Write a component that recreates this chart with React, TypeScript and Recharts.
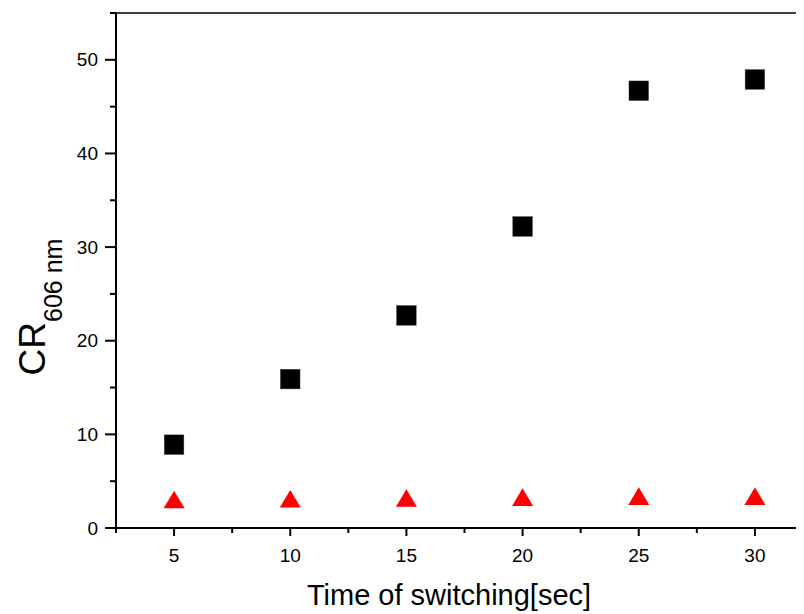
import React from 'react';
import { ScatterChart, Scatter, XAxis, YAxis, ReferenceLine, Label } from 'recharts';

const switchTimes = [5, 10, 15, 20, 25, 30];
const crSquares = [8.9, 15.9, 22.7, 32.2, 46.7, 47.9];
const crTriangles = [3.04, 3.12, 3.2, 3.3, 3.4, 3.4];
const yTicks = [0, 5, 10, 15, 20, 25, 30, 35, 40, 45, 50, 55];
const xTicks = [2.5, 5, 7.5, 10, 12.5, 15, 17.5, 20, 22.5, 25, 27.5, 30, 32.5];

const squareData = switchTimes.map((x, i) => ({ x, y: crSquares[i] }));
const triangleData = switchTimes.map((x, i) => ({ x, y: crTriangles[i] }));

const FONT = '"Liberation Sans", Arial, Helvetica, sans-serif';

const YTick = (props: any) => {
  const { x, y, payload } = props;
  const v = payload.value;
  const major = v % 10 === 0;
  return (
    <g>
      <line x1={x - (major ? 11 : 6)} x2={x} y1={y} y2={y} stroke="#000" strokeWidth={2} />
      {major && (
        <text x={x - 18} y={y} textAnchor="end" dominantBaseline="central" fontSize={19} fontFamily={FONT} fill="#000">
          {v}
        </text>
      )}
    </g>
  );
};

const XTick = (props: any) => {
  const { x, y, payload } = props;
  const v = payload.value;
  const major = v % 5 === 0;
  return (
    <g>
      <line x1={x} x2={x} y1={y} y2={y + (major ? 8 : 5)} stroke="#000" strokeWidth={2} />
      {major && (
        <text x={x} y={y + 34} textAnchor="middle" fontSize={19} fontFamily={FONT} fill="#000">
          {v}
        </text>
      )}
    </g>
  );
};

const XTitle = () => (
  <text x={441} y={597} textAnchor="middle" fontSize={29} fontFamily={FONT} fill="#000">
    Time of switching[sec]
  </text>
);

const YTitle = () => (
  <text x={37} y={299} transform="rotate(-90 37 299)" textAnchor="middle" fontFamily={FONT} fill="#000">
    <tspan fontSize={37}>CR</tspan>
    <tspan fontSize={25} dy={17}>606 nm</tspan>
  </text>
);

const SquareShape = (props: any) => {
  const { cx, cy } = props;
  return <rect x={cx - 9.75} y={cy - 9.75} width={19.5} height={19.5} fill="#000" stroke="#333" strokeWidth={0.5} />;
};

const TriangleShape = (props: any) => {
  const { cx, cy } = props;
  const pts = `${cx - 10.5},${cy + 8.8} ${cx + 10.5},${cy + 8.8} ${cx},${cy - 8.8}`;
  return <polygon points={pts} fill="#ff0000" />;
};

export default function App() {
  return (
    <div style={{ width: 796, height: 606, overflow: 'hidden' }}>
      <ScatterChart width={820} height={606} margin={{ top: 5, right: 15, bottom: 0, left: 0 }}>
        <XAxis
          type="number"
          dataKey="x"
          domain={[2.5, 32.5]}
          ticks={xTicks}
          interval={0}
          tickSize={0}
          tickMargin={0}
          tickLine={false}
          tick={<XTick />}
          height={86}
          axisLine={{ stroke: '#000', strokeWidth: 2 }}
          allowDataOverflow
        >
          <Label content={<XTitle />} />
        </XAxis>
        <YAxis
          type="number"
          dataKey="y"
          domain={[0, 55]}
          ticks={yTicks}
          interval={0}
          tickSize={0}
          tickMargin={0}
          tickLine={false}
          tick={<YTick />}
          width={108}
          axisLine={{ stroke: '#000', strokeWidth: 2 }}
          allowDataOverflow
        >
          <Label content={<YTitle />} />
        </YAxis>
        <ReferenceLine y={55} stroke="#000" strokeWidth={1.5} />
        <Scatter data={squareData} shape={<SquareShape />} isAnimationActive={false} />
        <Scatter data={triangleData} shape={<TriangleShape />} isAnimationActive={false} />
      </ScatterChart>
    </div>
  );
}
